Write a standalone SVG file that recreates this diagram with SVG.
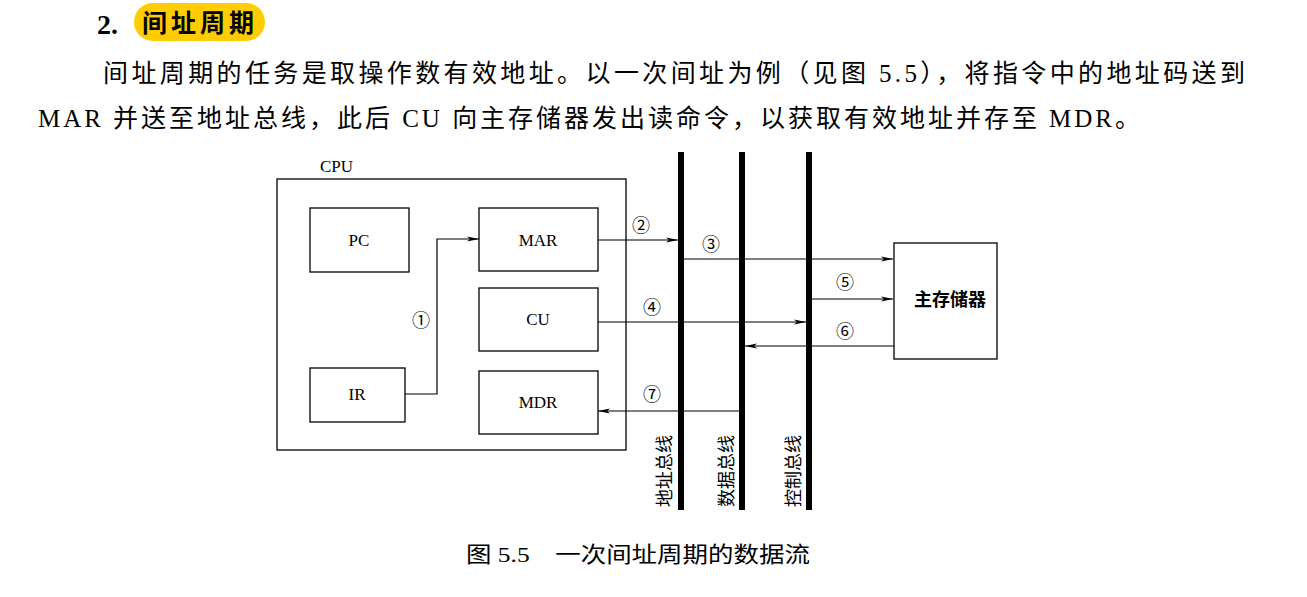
<svg xmlns="http://www.w3.org/2000/svg" width="1307" height="597" viewBox="0 0 1307 597">
<style>
.t{font-family:"Liberation Serif","Noto Sans CJK SC",serif;fill:#000}
.box{fill:#fff;stroke:#000;stroke-width:1.3}
.ln{stroke:#000;stroke-width:1.2;fill:none}
.bus{stroke:#000;stroke-width:6}
</style>
<defs><marker id="a" markerWidth="12" markerHeight="6" refX="12" refY="3" orient="auto" markerUnits="userSpaceOnUse"><path d="M0,0.5 L12,3 L0,5.5 L3,3 Z" fill="#000"/></marker></defs>
<rect width="1307" height="597" fill="#fff"/>
<text class="t" x="97" y="34" font-size="28" font-weight="bold">2.</text>
<rect x="134" y="3" width="131" height="38" rx="19" fill="#ffcc00"/>
<text class="t" x="142" y="32" font-size="25" font-weight="bold" letter-spacing="4">间址周期</text>
<text class="t" x="103" y="82" font-size="25" textLength="1142" lengthAdjust="spacing">间址周期的任务是取操作数有效地址。以一次间址为例（见图 5.5），将指令中的地址码送到</text>
<text class="t" x="38" y="127" font-size="25" textLength="1102" lengthAdjust="spacing">MAR 并送至地址总线，此后 CU 向主存储器发出读命令，以获取有效地址并存至 MDR。</text>
<text class="t" x="320" y="172" font-size="17">CPU</text>
<g id="cpu"><rect class="box" x="277" y="179" width="349" height="271"/></g>
<g id="pc"><rect class="box" x="310" y="208" width="99" height="64"/><text class="t" x="359" y="246" font-size="17" text-anchor="middle">PC</text></g>
<g id="mar"><rect class="box" x="479" y="208" width="119" height="63"/><text class="t" x="538" y="246" font-size="17" text-anchor="middle">MAR</text></g>
<g id="cu"><rect class="box" x="479" y="288" width="119" height="63"/><text class="t" x="538" y="325" font-size="17" text-anchor="middle">CU</text></g>
<g id="mdr"><rect class="box" x="479" y="371" width="119" height="63"/><text class="t" x="538" y="408" font-size="17" text-anchor="middle">MDR</text></g>
<g id="ir"><rect class="box" x="310" y="368" width="95" height="54"/><text class="t" x="357" y="400" font-size="17" text-anchor="middle">IR</text></g>
<g id="mem"><rect class="box" x="894" y="243" width="103" height="116"/><text class="t" x="950" y="306" font-size="18" text-anchor="middle" font-weight="bold">主存储器</text></g>
<g id="buses">
<line class="bus" x1="681" y1="152" x2="681" y2="510"/>
<line class="bus" x1="742" y1="152" x2="742" y2="510"/>
<line class="bus" x1="809" y1="152" x2="809" y2="510"/>
<text class="t" font-size="18" transform="translate(671,507) rotate(-90)">地址总线</text>
<text class="t" font-size="18" transform="translate(733,507) rotate(-90)">数据总线</text>
<text class="t" font-size="18" transform="translate(800,507) rotate(-90)">控制总线</text>
</g>
<g id="connectors">
<path class="ln" d="M405,394 H437 V239 H479" marker-end="url(#a)"/>
<line class="ln" x1="598" y1="240" x2="678" y2="240" marker-end="url(#a)"/>
<line class="ln" x1="684" y1="259" x2="893" y2="259" marker-end="url(#a)"/>
<line class="ln" x1="812" y1="299" x2="893" y2="299" marker-end="url(#a)"/>
<line class="ln" x1="598" y1="322" x2="806" y2="322" marker-end="url(#a)"/>
<line class="ln" x1="894" y1="346" x2="745" y2="346" marker-end="url(#a)"/>
<line class="ln" x1="739" y1="411" x2="598" y2="411" marker-end="url(#a)"/>
</g>
<g font-size="18">
<text class="t" x="421" y="327" text-anchor="middle">①</text>
<text class="t" x="641" y="232" text-anchor="middle">②</text>
<text class="t" x="711" y="251" text-anchor="middle">③</text>
<text class="t" x="652" y="314" text-anchor="middle">④</text>
<text class="t" x="845" y="289" text-anchor="middle">⑤</text>
<text class="t" x="845" y="338" text-anchor="middle">⑥</text>
<text class="t" x="652" y="401" text-anchor="middle">⑦</text>
</g>
<text class="t" x="466" y="562" font-size="22" textLength="344" lengthAdjust="spacingAndGlyphs">图 5.5　一次间址周期的数据流</text>
</svg>
